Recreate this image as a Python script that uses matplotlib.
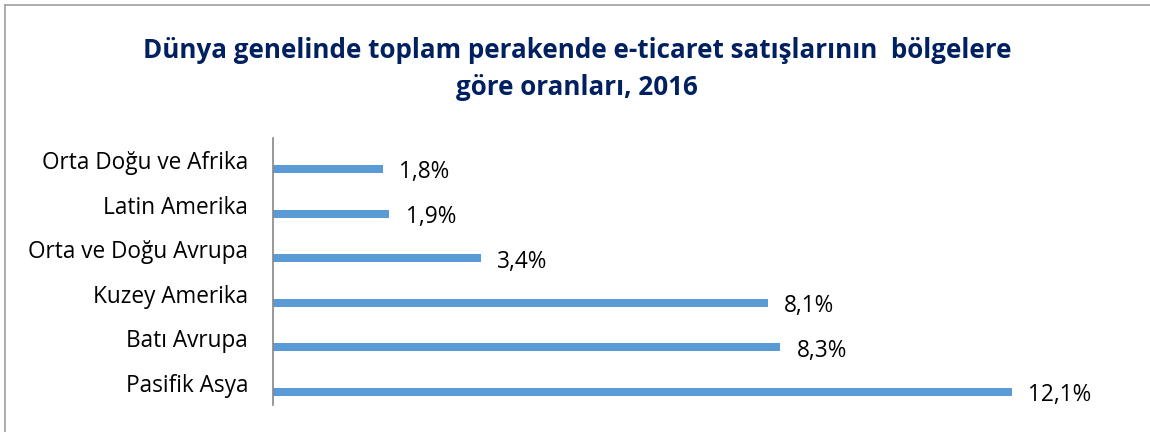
import matplotlib
matplotlib.use('Agg')
import matplotlib.pyplot as plt
from matplotlib.lines import Line2D

# Data (top to bottom as shown)
regions = ['Orta Doğu ve Afrika', 'Latin Amerika', 'Orta ve Doğu Avrupa',
           'Kuzey Amerika', 'Batı Avrupa', 'Pasifik Asya']
shares = [1.8, 1.9, 3.4, 8.1, 8.3, 12.1]
labels = ['1,8%', '1,9%', '3,4%', '8,1%', '8,3%', '12,1%']

title = 'Dünya genelinde toplam perakende e-ticaret satışlarının  bölgelere\ngöre oranları, 2016'

plt.rcParams['font.family'] = ['Open Sans', 'DejaVu Sans']

fig = plt.figure(figsize=(11.5, 4.32), dpi=100)
ax = fig.add_axes([273 / 1150, 1 - 405.3 / 432, 855 / 1150, 267.6 / 432])

pos = list(range(len(regions)))
ax.barh([p + 0.2 for p in pos], shares, height=0.18, color='#5B9BD5')

for p, v, lab in zip(pos, shares, labels):
    ax.text(v + 0.27, p + 0.28, lab, va='center', ha='left', fontsize=16.3, color='black')

ax.set_xlim(0, 14)
ax.set_ylim(len(regions) - 0.5, -0.5)
ax.set_yticks(pos)
ax.set_yticklabels(regions, fontsize=16.3)
ax.tick_params(axis='y', length=0, pad=18)
ax.set_xticks([])
for s in ['top', 'right', 'bottom']:
    ax.spines[s].set_visible(False)
ax.spines['left'].set_color('#868686')
ax.spines['left'].set_linewidth(1.2)

fig.text(0.502, 1 - 69 / 432, title, ha='center', va='center', fontsize=18.7,
         fontweight='bold', color='#002060', linespacing=1.45)

# chart border (top and left visible)
fig.add_artist(Line2D([5 / 1150, 1], [1 - 5 / 432, 1 - 5 / 432], transform=fig.transFigure,
                      color='#A0A0A0', lw=1.2))
fig.add_artist(Line2D([5 / 1150, 5 / 1150], [0, 1 - 5 / 432], transform=fig.transFigure,
                      color='#A0A0A0', lw=1.2))

fig.savefig('out.png', dpi=100)
